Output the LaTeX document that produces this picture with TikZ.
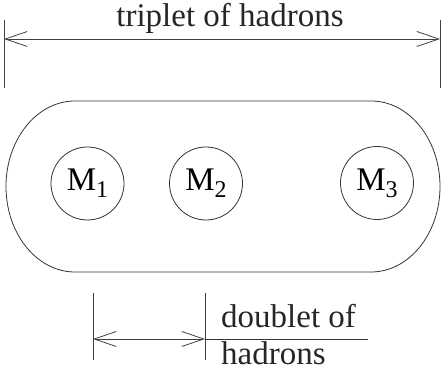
\documentclass[tikz,border=0pt]{standalone}
\usepackage{fontspec}
\setmainfont{Liberation Serif}
\usetikzlibrary{positioning,arrows.meta}
\tikzset{
  ln/.style       = {draw=black!80, line width=0.8pt},
  tick/.style     = {draw=black!75, line width=0.8pt},
  dimarrow/.style = {draw=black!75, line width=0.8pt, {Straight Barb[length=22pt,width=15pt]}-{Straight Barb[length=22pt,width=15pt]}},
  hadron/.style   = {circle, draw=black!80, line width=0.8pt, minimum size=73pt, inner sep=0pt, font=\fontsize{33}{36}\selectfont},
  lbl/.style      = {font=\fontsize{33}{36}\selectfont, inner sep=0pt, text=black!85},
}
\newcommand{\meson}[1]{M\raisebox{-7pt}{\fontsize{24}{24}\selectfont #1}}

\begin{document}
\begin{tikzpicture}[x=1pt,y=1pt]
  \useasboundingbox (0,0) rectangle (441,371);

  % triplet span
  \coordinate (tl1) at (4,351);  \coordinate (tl2) at (4,283);
  \coordinate (tr1) at (440,351); \coordinate (tr2) at (440,283);
  \coordinate (ta) at (4,332);   \coordinate (tb) at (440,332);
  \draw[tick] (tl1) -- (tl2);
  \draw[tick] (tr1) -- (tr2);
  \draw[dimarrow] (ta) -- (tb);
  \node[lbl, anchor=base] (trip) at (230,344) {triplet of hadrons};

  % stadium
  \draw[ln] (75,270) -- (371,270)
    arc[start angle=90, end angle=-90, x radius=69, y radius=85.5]
    -- (75,99)
    arc[start angle=270, end angle=90, x radius=69, y radius=85.5] -- cycle;

  % hadrons
  \node[hadron] (m1) at (87.5,187.5) {\meson{1}};
  \node[hadron] (m2) at (206,187.5) {\meson{2}};
  \node[hadron] (m3) at (377,188) {\meson{3}};

  % doublet span
  \coordinate (bl1) at (93,78);  \coordinate (bl2) at (93,11);
  \coordinate (br1) at (205,78); \coordinate (br2) at (205,11);
  \coordinate (ba) at (93,32);   \coordinate (bb) at (205,32);
  \coordinate (be) at (368,32);
  \draw[tick] (bl1) -- (bl2);
  \draw[tick] (br1) -- (br2);
  \draw[dimarrow] (ba) -- (bb);
  \draw[ln] (bb) -- (be);
  \node[lbl, anchor=base west] (dbl) at (221,43) {doublet of};
  \node[lbl, anchor=base west] (hdr) at (221,6) {hadrons};
\end{tikzpicture}
\end{document}
